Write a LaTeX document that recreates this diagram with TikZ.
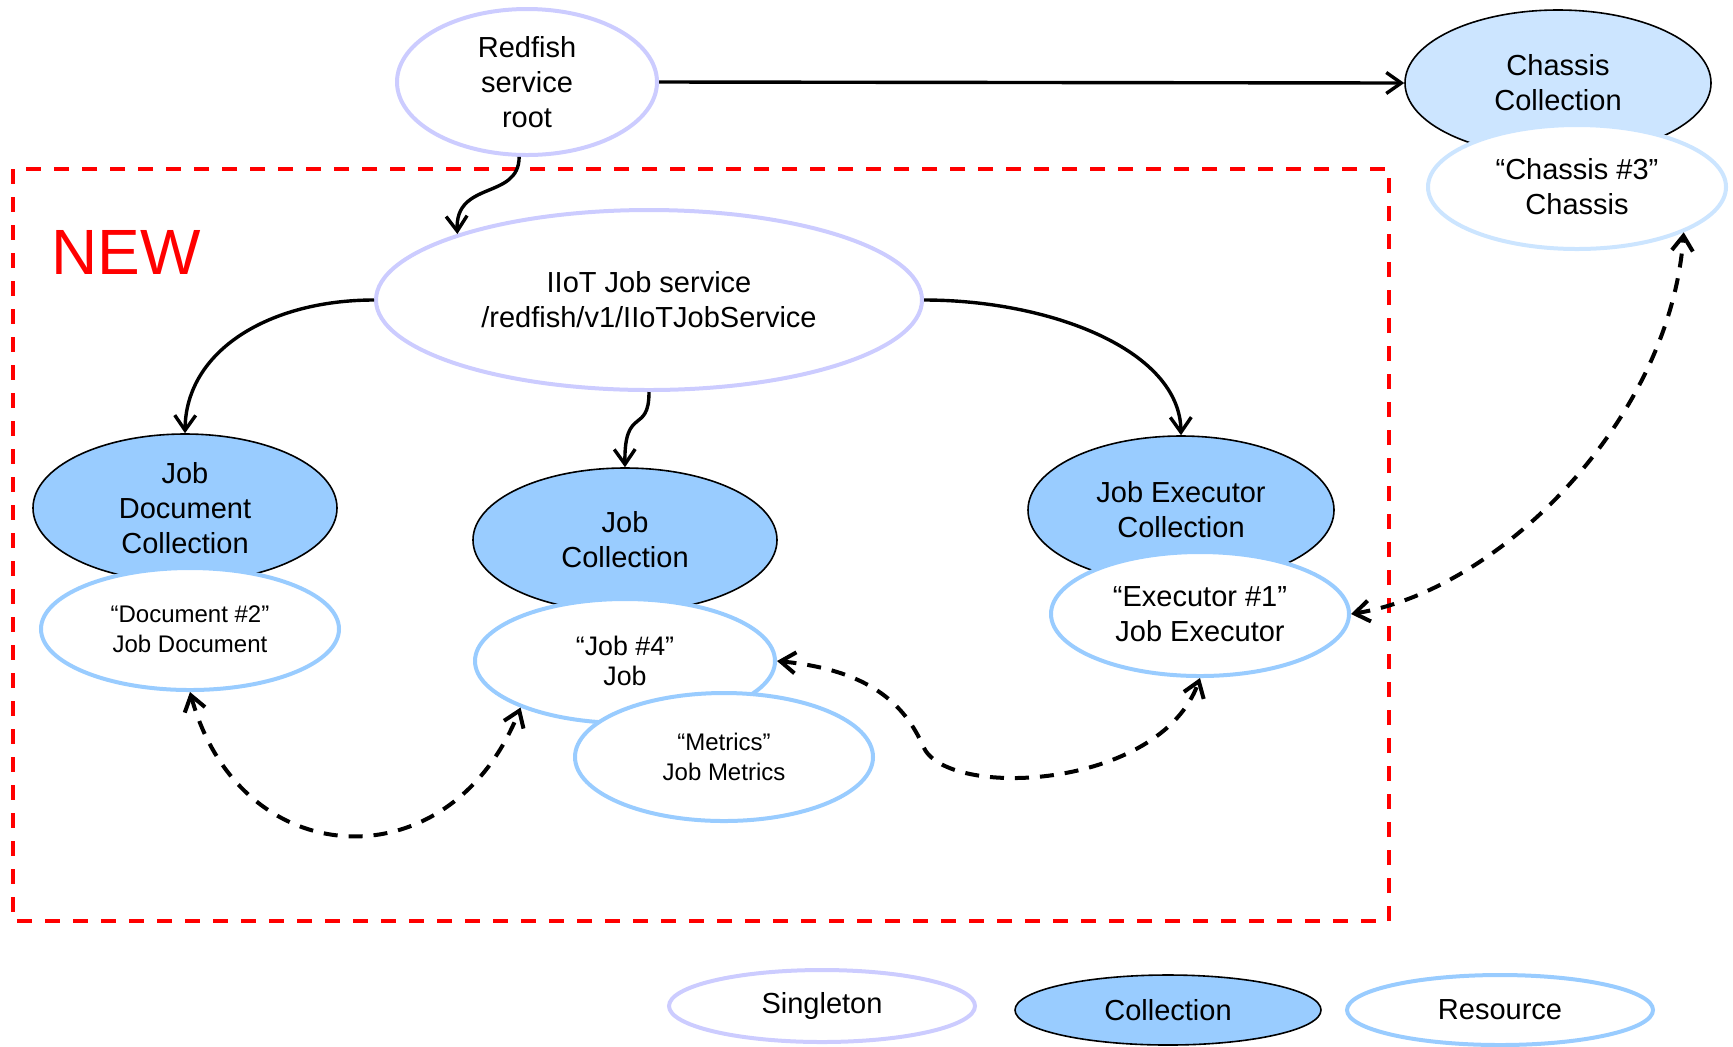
\documentclass[tikz,border=0pt]{standalone}
\usepackage{fontspec}
\setmainfont{Liberation Sans}
\usetikzlibrary{shapes.geometric,arrows.meta}
\definecolor{singl}{HTML}{CCCCFF}
\definecolor{collf}{HTML}{99CCFF}
\definecolor{collflight}{HTML}{CCE5FF}
\definecolor{resc}{HTML}{99CCFF}
\definecolor{resclight}{HTML}{CCE5FF}
\definecolor{newred}{HTML}{FF0000}
\tikzset{
  esz/.style 2 args={minimum width=#1pt, minimum height=#2pt},
  ebase/.style={ellipse, inner sep=0pt, align=center, font=\fontsize{14.5}{17.4}\selectfont},
  smalltxt/.style={font=\fontsize{12}{14.8}\selectfont},
  midtxt/.style={font=\fontsize{13.4}{15}\selectfont},
  singleton/.style={ebase, draw=singl, line width=2pt, fill=white},
  collection/.style={ebase, draw=black, line width=0.8pt, fill=collf},
  collectionlight/.style={ebase, draw=black, line width=0.8pt, fill=collflight},
  resource/.style={ebase, draw=resc, line width=2pt, fill=white},
  resourcelight/.style={ebase, draw=resclight, line width=2pt, fill=white},
  barb/.tip={Straight Barb[length=7.5pt,width=10.5pt]},
  conn/.style={line width=1.7pt, -barb},
  dconn/.style={line width=2pt, dash pattern=on 7pt off 5.5pt, barb-barb},
  frame/.style={draw=newred, line width=2pt, dash pattern=on 7.5pt off 6.5pt}
}
\begin{document}
\begin{tikzpicture}[x=0.5pt,y=-0.5pt]
\useasboundingbox (0,0) rectangle (1733,1046);
% frame
\draw[frame] (13,169) rectangle (1389,921);
\node[anchor=base west, inner sep=0pt, text=newred, font=\fontsize{32}{36}\selectfont] (newlbl) at (51,274) {NEW};
% top nodes
\node[singleton, esz={130}{73}] (root) at (527,82) {Redfish\\service\\root};
\node[collectionlight, esz={153}{73}] (cc) at (1558,83) {Chassis\\Collection};
\node[resourcelight, esz={149}{62}] (ch3) at (1577,187) {“Chassis \#3”\\Chassis};
% service
\node[singleton, esz={273}{90}] (ijs) at (649,300) {IIoT Job service\\/redfish/v1/IIoTJobService};
% collections
\node[collection, esz={152}{74}] (jdc) at (185,508) {Job\\Document\\Collection};
\node[resource, smalltxt, esz={149}{61}] (doc) at (190,629) {“Document \#2”\\Job Document};
\node[collection, esz={152}{72}] (jc) at (625,540) {Job\\Collection};
\node[resource, midtxt, esz={150}{62}] (job) at (625,661) {“Job \#4”\\Job};
\node[resource, smalltxt, esz={149}{64}] (met) at (724,757) {“Metrics”\\Job Metrics};
\node[collection, esz={153}{74}] (jec) at (1181,510) {Job Executor\\Collection};
\node[resource, esz={149}{62}] (ex) at (1200,614) {“Executor \#1”\\Job Executor};
% legend
\node[singleton, esz={153}{36}] (lsing) at (822,1006) {Singleton};
\node[collection, esz={153}{35}] (lcoll) at (1168,1010) {Collection};
\node[resource, esz={153}{35}] (lres) at (1500,1010) {Resource};
% solid connectors
\draw[conn] (root.east) -- (cc.west);
\draw[conn] (root.-96) .. controls (519,200) and (455,180) .. (ijs.161);
\draw[conn] (ijs.west) .. controls (270,300) and (186,350) .. (jdc.north);
\draw[conn] (ijs.south) .. controls (649,435) and (624,405) .. (jc.north);
\draw[conn] (ijs.east) .. controls (1050,300) and (1180,350) .. (jec.north);
% dashed connectors
\draw[dconn] (doc.south) .. controls (240,875) and (450,885) .. (job.204);
\draw[dconn] (job.east) .. controls (870,670) and (905,705) .. (923,746) .. controls (945,800) and (1160,790) .. (ex.south);
\draw[dconn] (ex.east) .. controls (1500,590) and (1670,420) .. (ch3.-23);
\end{tikzpicture}
\end{document}
